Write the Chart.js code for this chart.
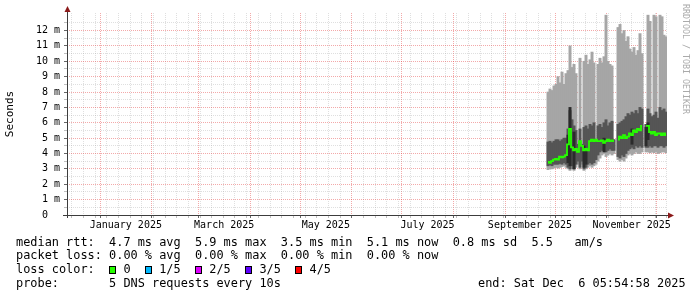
<!DOCTYPE html>
<html>
<head>
<meta charset="utf-8">
<script src="https://cdn.jsdelivr.net/npm/chart.js@4.4.0/dist/chart.umd.min.js"></script>
<style>
  html, body { margin: 0; padding: 0; background: #fff; }
  #wrap { position: relative; width: 697px; height: 297px; overflow: hidden; }
  #chart { position: absolute; left: 0; top: 0; }
  .ln { position: absolute; left: 16px; font: 11.9px "DejaVu Sans Mono", monospace; line-height: 14px; white-space: pre; color: #000; }
  .box { display: inline-block; width: 7px; height: 8px; margin-right: calc(1ch - 7px); border: 1px solid #000; box-sizing: border-box; vertical-align: middle; }
  #credit { position: absolute; left: 681px; top: 4px; writing-mode: vertical-rl; font: 8.3px "DejaVu Sans Mono", monospace; color: #aaa; white-space: pre; }
</style>
</head>
<body>
<div id="wrap">
  <canvas id="chart" width="697" height="297"></canvas>
  <div class="ln" id="l1" style="top:234.7px"></div>
  <div class="ln" id="l2" style="top:248px"></div>
  <div class="ln" id="l3" style="top:262.3px"></div>
  <div class="ln" id="l4" style="top:275.7px"></div>
  <div class="ln" id="l5" style="top:275.7px; left:478px"></div>
  <div id="credit">RRDTOOL / TOBI OETIKER</div>
</div>
<script>
// time axis in days since 2025-01-01, 360 day window ending Dec 6 2025
const xMin = -19.8;
const xMax = 340.2;
const monthStarts = [0, 31, 59, 90, 120, 151, 181, 212, 243, 273, 304, 334];
const labelDays = [15.5, 74.5, 135.5, 196.5, 258, 319];
const monthLabels = ['January 2025', 'March 2025', 'May 2025', 'July 2025', 'September 2025', 'November 2025'];
const firstSunday = -17;

// smoke bins, 1.2 days each, from late September
const binStart = 268.8;
const binStep = 1.2;

const lightLo = [2.95, 3.0, 3.0, 3.05, 3.1, 3.05, 3.1, 3.15, 3.2, 3.1,
  3.0, 2.9, 3.0, 2.9, 3.1, 3.3, 3.0, 3.3, 2.9, 3.0,
  3.1, 3.2, 3.1, 3.2, 3.3, 3.5, 3.7, 3.9, 4.0, 3.8,
  3.9, 4.0, 3.9, 4.0, null, 3.6, 3.5, 3.6, 3.5, 3.7,
  3.9, 4.0, 3.9, 4.0, 4.1, 4.0, 4.0, 4.1, null, 4.1,
  4.1, 4.05, 4.1, 4.05, 4.1, 4.0, 4.05, 4.1, 4.1, 4.05];
const lightHi = [8.0, 8.2, 8.1, 8.4, 8.5, 9.0, 8.6, 9.3, 8.5, 9.2,
  9.4, 11.0, 9.6, 9.8, 9.2, 4.6, 10.2, 4.6, 10.0, 10.4,
  9.8, 10.1, 10.6, 9.9, 4.8, 9.8, 10.2, 9.9, 10.3, 13.0,
  10.0, 9.8, 9.7, 4.9, null, 12.2, 12.4, 11.8, 12.0, 11.3,
  11.6, 10.8, 10.6, 10.9, 10.4, 10.7, 11.8, 10.5, null, 5.9,
  13.0, 12.6, 6.4, 13.0, 12.9, 6.3, 13.0, 12.9, 11.7, 11.6];
const darkLo = [3.2, 3.25, 3.2, 3.3, 3.3, 3.3, 3.35, 3.3, 3.4, 3.3,
  3.1, 3.0, 3.2, 3.0, 3.3, 3.5, 3.1, 3.5, 3.0, 3.1,
  3.3, 3.4, 3.3, 3.4, 3.6, 3.9, 4.1, 4.2, 4.2, 4.1,
  4.2, 4.3, 4.2, 4.2, null, 3.8, 3.7, 3.9, 3.8, 4.0,
  4.2, 4.3, 4.4, 4.3, 4.5, 4.4, 4.5, 4.4, null, 4.4,
  4.4, 4.5, 4.4, 4.5, 4.5, 4.4, 4.5, 4.5, 4.4, 4.5];
const darkHi = [4.75, 4.8, 4.7, 4.8, 4.9, 4.9, 4.8, 4.9, 5.0, 5.0,
  5.6, 6.8, 6.2, 5.8, 5.5, 4.6, 5.6, 4.6, 5.7, 5.8,
  5.6, 5.9, 5.8, 6.0, 4.8, 5.8, 5.9, 5.7, 6.0, 6.2,
  5.8, 6.0, 6.1, 4.9, null, 5.9, 6.0, 6.1, 6.2, 6.4,
  6.6, 6.5, 6.7, 6.6, 6.8, 6.6, 7.0, 6.9, null, 5.9,
  6.9, 6.6, 6.4, 6.5, 6.7, 6.3, 7.0, 6.8, 6.9, 6.7];
const coreLo = [null, null, null, null, null, null, null, null, null, null,
  3.4, 3.2, null, 3.0, null, null, null, null, 3.1, 3.3,
  null, null, null, null, null, null, null, null, 4.1, null,
  null, null, null, null, null, null, null, null, null, null,
  null, null, 4.6, null, null, null, null, null, null, 4.5,
  4.9, null, null, null, null, null, null, null, null, null];
const coreHi = [null, null, null, null, null, null, null, null, null, null,
  5.2, 7.0, null, 5.4, null, null, null, null, 4.5, 4.3,
  null, null, null, null, null, null, null, null, 5.0, null,
  null, null, null, null, null, null, null, null, null, null,
  null, null, 5.6, null, null, null, null, null, null, 5.7,
  6.0, null, null, null, null, null, null, null, null, null];
const median = [3.45, 3.4, 3.5, 3.6, 3.65, 3.6, 3.8, 3.75, 3.8, 3.9,
  4.6, 5.6, 4.4, 4.2, 4.3, 4.1, 4.8, 4.5, 4.2, 4.3,
  4.2, 4.8, 4.9, 4.8, 4.9, 4.8, 4.8, 4.85, 4.7, 4.8,
  4.9, 4.8, 4.85, 4.8, null, 4.9, 5.1, 5.0, 5.2, 5.0,
  5.1, 5.3, 5.2, 5.5, 5.4, 5.6, 5.5, 5.8, null, 5.8,
  5.8, 5.4, 5.3, 5.4, 5.2, 5.3, 5.3, 5.2, 5.3, 5.2];

const rttStats = ['4.7 ms avg', '5.9 ms max', '3.5 ms min', '5.1 ms now', '0.8 ms sd', '5.5   am/s'];
const lossStats = ['0.00 % avg', '0.00 % max', '0.00 % min', '0.00 % now'];
const lossLabels = ['0', '1/5', '2/5', '3/5', '4/5'];
const lossColors = ['#26ff00', '#00b8ff', '#dd00ff', '#5e00ff', '#ff0000'];
const probeText = '5 DNS requests every 10s';
const endText = 'end: Sat Dec  6 05:54:58 2025';

const majorGrid = 'rgba(225,40,40,0.4)';
const minorGrid = 'rgba(150,150,150,0.3)';

const binDays = median.map((v, i) => binStart + i * binStep);

function band(lo, hi) {
    return lo.map((v, i) => ({x: binDays[i], y: (v == null || hi[i] == null) ? null : [v, hi[i]]}));
}

const xTicks = [];
for (let d = firstSunday; d <= xMax; d += 7) {
    if (!monthStarts.includes(d)) xTicks.push({value: d, kind: 'week'});
}
monthStarts.forEach(d => xTicks.push({value: d, kind: 'month'}));
labelDays.forEach((d, i) => xTicks.push({value: d, kind: 'label', text: monthLabels[i]}));
xTicks.sort((a, b) => a.value - b.value);

const yTicks = [];
for (let v = 0; v <= 12.5; v += 0.5) yTicks.push({value: v, kind: Number.isInteger(v) ? 'major' : 'minor'});

const axisArrows = {
    id: 'axisArrows',
    afterDraw(chart) {
        const {ctx, chartArea: a} = chart;
        ctx.save();
        ctx.strokeStyle = '#3c3c3c';
        ctx.lineWidth = 1;
        ctx.beginPath();
        ctx.moveTo(a.left - 4, a.bottom + 0.5);
        ctx.lineTo(a.right + 2, a.bottom + 0.5);
        ctx.moveTo(a.left + 0.5, a.bottom + 3);
        ctx.lineTo(a.left + 0.5, a.top - 1);
        ctx.stroke();
        ctx.fillStyle = '#8b1a1a';
        ctx.beginPath();
        ctx.moveTo(a.right + 1, a.bottom - 2.5);
        ctx.lineTo(a.right + 7, a.bottom + 0.5);
        ctx.lineTo(a.right + 1, a.bottom + 3.5);
        ctx.fill();
        ctx.beginPath();
        ctx.moveTo(a.left - 2.5, a.top - 1);
        ctx.lineTo(a.left + 0.5, a.top - 7);
        ctx.lineTo(a.left + 3.5, a.top - 1);
        ctx.fill();
        ctx.restore();
    }
};

new Chart(document.getElementById('chart'), {
    type: 'bar',
    data: {
        datasets: [{
            type: 'line',
            label: 'median',
            data: median.map((v, i) => ({x: binDays[i], y: v})),
            borderColor: lossColors[0],
            borderWidth: 1.8,
            pointRadius: 0,
            stepped: 'middle',
            spanGaps: false
        }, {
            label: 'core',
            data: band(coreLo, coreHi),
            backgroundColor: '#2b2b2b',
            barThickness: 2.3,
            grouped: false
        }, {
            label: 'inner',
            data: band(darkLo, darkHi),
            backgroundColor: '#555555',
            barThickness: 2.3,
            grouped: false
        }, {
            label: 'outer',
            data: band(lightLo, lightHi),
            backgroundColor: '#a6a6a6',
            barThickness: 2.3,
            grouped: false
        }]
    },
    options: {
        responsive: false,
        animation: false,
        devicePixelRatio: 1,
        layout: {padding: {left: 0, right: 30, top: 13, bottom: 0}},
        plugins: {legend: {display: false}, tooltip: {enabled: false}},
        scales: {
            x: {
                type: 'linear',
                min: xMin,
                max: xMax,
                bounds: 'data',
                offset: false,
                z: 1,
                afterBuildTicks: s => { s.ticks = xTicks.map(t => ({...t})); },
                afterFit: s => { s.height = 82; },
                grid: {
                    offset: false,
                    tickLength: 3,
                    color: c => !c.tick ? 'transparent' : c.tick.kind === 'month' ? majorGrid : c.tick.kind === 'week' ? minorGrid : 'transparent',
                    tickColor: c => !c.tick ? 'transparent' : c.tick.kind === 'month' ? 'rgba(0,0,0,0.6)' : c.tick.kind === 'week' ? 'rgba(0,0,0,0.25)' : 'transparent'
                },
                border: {display: false, dash: [1, 1]},
                ticks: {
                    autoSkip: false,
                    maxRotation: 0,
                    minRotation: 0,
                    padding: 1,
                    color: '#000',
                    font: {family: 'DejaVu Sans Mono', size: 10},
                    callback: (v, i) => xTicks[i] && xTicks[i].kind === 'label' ? xTicks[i].text : ''
                }
            },
            y: {
                type: 'linear',
                min: 0,
                max: 13.14,
                bounds: 'data',
                z: 1,
                afterBuildTicks: s => { s.ticks = yTicks.map(t => ({...t})); },
                afterFit: s => { s.width = 67; },
                grid: {
                    tickLength: 3,
                    color: c => !c.tick ? 'transparent' : c.tick.kind === 'major' ? majorGrid : minorGrid,
                    tickColor: c => !c.tick ? 'transparent' : c.tick.kind === 'major' ? 'rgba(0,0,0,0.6)' : 'rgba(0,0,0,0.25)'
                },
                border: {display: false, dash: [1, 1]},
                ticks: {
                    autoSkip: false,
                    padding: 4,
                    color: '#000',
                    font: {family: 'DejaVu Sans Mono', size: 10},
                    callback: v => !Number.isInteger(v) ? '' : v === 0 ? '0  ' : v + ' m'
                },
                title: {
                    display: true,
                    text: 'Seconds',
                    color: '#000',
                    font: {family: 'DejaVu Sans Mono', size: 11}
                }
            }
        }
    },
    plugins: [axisArrows]
});

document.getElementById('l1').textContent = 'median rtt:  ' + rttStats.join('  ');
document.getElementById('l2').textContent = 'packet loss: ' + lossStats.join('  ');
const l3 = document.getElementById('l3');
l3.appendChild(document.createTextNode('loss color:  '));
lossLabels.forEach((lab, i) => {
    const b = document.createElement('span');
    b.className = 'box';
    b.style.background = lossColors[i];
    l3.appendChild(b);
    l3.appendChild(document.createTextNode(' ' + lab + (i < lossLabels.length - 1 ? '  ' : '')));
});
document.getElementById('l4').textContent = 'probe:       ' + probeText;
document.getElementById('l5').textContent = endText;
</script>
</body>
</html>
